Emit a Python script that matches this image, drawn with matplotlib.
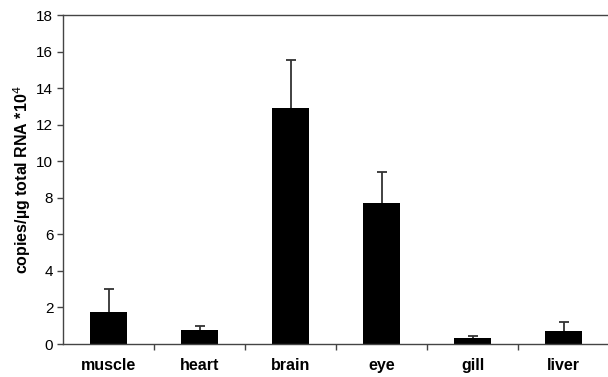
import matplotlib
matplotlib.use("Agg")
import matplotlib.pyplot as plt
import numpy as np

tissues = ["muscle", "heart", "brain", "eye", "gill", "liver"]
copies = [1.75, 0.75, 12.9, 7.7, 0.35, 0.73]
errors = [1.25, 0.25, 2.65, 1.72, 0.1, 0.5]

plt.rcParams["font.family"] = ["Liberation Sans", "DejaVu Sans"]

fig = plt.figure(figsize=(6.08, 3.77), dpi=100)
ax = fig.add_axes([63 / 608, 1 - 344 / 377, 546 / 608, 329 / 377])

x = np.arange(len(tissues))
ax.bar(x, copies, width=0.41, color="black", zorder=2)
eb = ax.errorbar(x, copies, yerr=[np.zeros(len(errors)), errors], fmt="none",
                 ecolor="#333333", elinewidth=1.3, capsize=3.5, capthick=1.3, zorder=1)
# only the upper caps are wanted
eb[1][0].set_visible(False)

ax.set_xlim(-0.5, len(tissues) - 0.5)
ax.set_ylim(0, 18)
ax.set_yticks(np.arange(0, 19, 2))
ax.set_xticks(x)
ax.set_xticklabels(tissues, fontweight="bold", fontsize=11.5)
ax.set_xticks(x[:-1] + 0.5, minor=True)
ax.tick_params(axis="x", which="major", length=0, pad=10)
ax.tick_params(axis="x", which="minor", length=4, width=1, color="#444444")
ax.tick_params(axis="y", length=4, width=1, labelsize=11, pad=3, color="#444444")
ax.set_ylabel("copies/µg total RNA *10$^4$", fontweight="bold", fontsize=11.5)
ax.yaxis.set_label_coords(-30 / 546, 0.5)

ax.spines["right"].set_visible(False)
for s in ["left", "top", "bottom"]:
    ax.spines[s].set_color("#444444")
    ax.spines[s].set_linewidth(1)

fig.savefig("out.png", dpi=100)
